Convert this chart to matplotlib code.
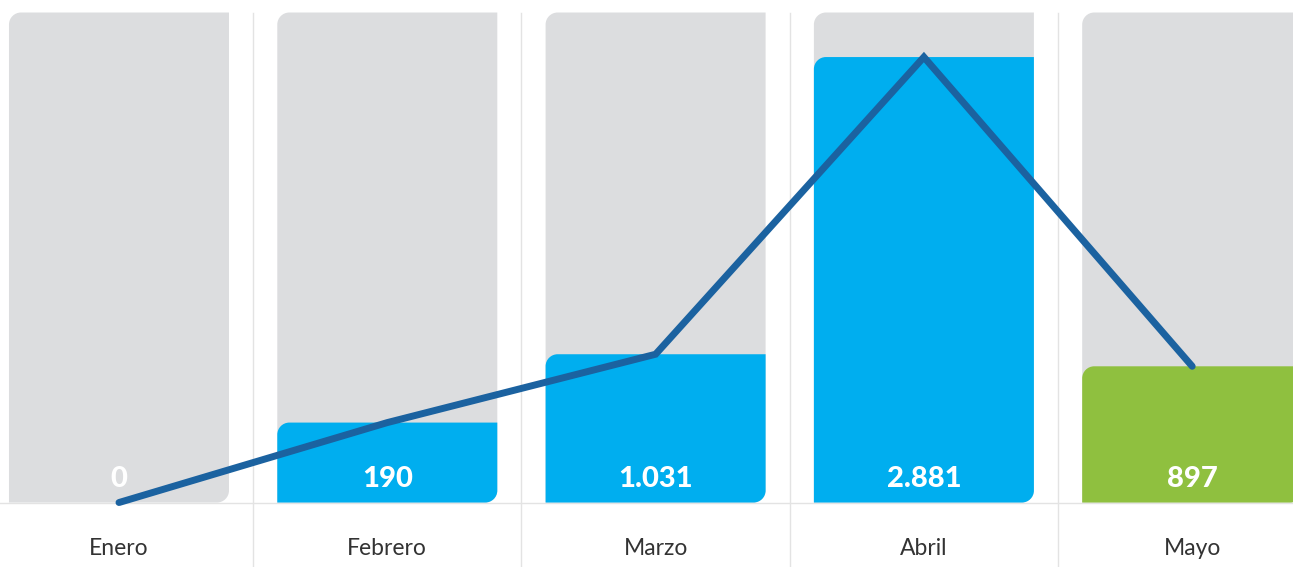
import numpy as np
import matplotlib
matplotlib.use("Agg")
import matplotlib.pyplot as plt
from matplotlib.path import Path
from matplotlib.patches import PathPatch

meses = ["Enero", "Febrero", "Marzo", "Abril", "Mayo"]
# bar heights as drawn in the picture (same units as the labels)
alturas = [0, 517, 959, 2881, 881]
etiquetas = ["0", "190", "1.031", "2.881", "897"]
colores = ["#00AEEF", "#00AEEF", "#00AEEF", "#00AEEF", "#8FC03F"]

GRIS = "#DCDDDF"
LINEA = "#1B62A0"
SEP = "#E3E3E3"

W, H = 1293, 567
fig = plt.figure(figsize=(W / 100, H / 100), dpi=100)
ax = fig.add_axes([0, 0, 1, 1])
ax.set_xlim(-0.4435, 4.3757)
ax.set_ylim(-417, 3250)
ax.axis("off")

# pixel -> data conversion for the rounded corners
px_x = (4.3757 + 0.4435) / W
px_y = (3250 + 417) / H


def barra(x0, x1, y0, y1, color, r=12, z=1):
    rx, ry = r * px_x, r * px_y
    ry = min(ry, (y1 - y0) / 2)
    k = 0.5523
    verts = [
        (x0, y0),
        (x1 - rx, y0),
        (x1 - rx + k * rx, y0), (x1, y0 + ry - k * ry), (x1, y0 + ry),
        (x1, y1),
        (x0 + rx, y1),
        (x0 + rx - k * rx, y1), (x0, y1 - ry + k * ry), (x0, y1 - ry),
        (x0, y0),
    ]
    codes = [Path.MOVETO, Path.LINETO,
             Path.CURVE4, Path.CURVE4, Path.CURVE4,
             Path.LINETO, Path.LINETO,
             Path.CURVE4, Path.CURVE4, Path.CURVE4,
             Path.CLOSEPOLY]
    ax.add_patch(PathPatch(Path(verts, codes), facecolor=color,
                           edgecolor="none", zorder=z))


x = np.arange(len(meses))
ancho = 0.82
tope = max(alturas) * 1.1

ax.axhline(0, color=SEP, lw=1, zorder=0)
for i in range(len(meses) - 1):
    ax.plot([i + 0.5, i + 0.5], [-500, tope], color=SEP, lw=1, zorder=0)

for i in x:
    barra(i - ancho / 2, i + ancho / 2, 0, tope, GRIS, z=1)
    if alturas[i] > 0:
        barra(i - ancho / 2, i + ancho / 2, 0, alturas[i], colores[i], z=2)
    ax.text(i, 102, etiquetas[i], color="white", fontsize=21,
            fontweight=900, family="Lato", ha="center", va="baseline", zorder=4)
    ax.text(i, -339, meses[i], color="#333333", fontsize=16.5,
            family="Lato", ha="center", va="baseline")

ax.plot(x, alturas, color=LINEA, lw=5, solid_capstyle="round",
        solid_joinstyle="miter", zorder=3)

fig.savefig("out.png", dpi=100)
